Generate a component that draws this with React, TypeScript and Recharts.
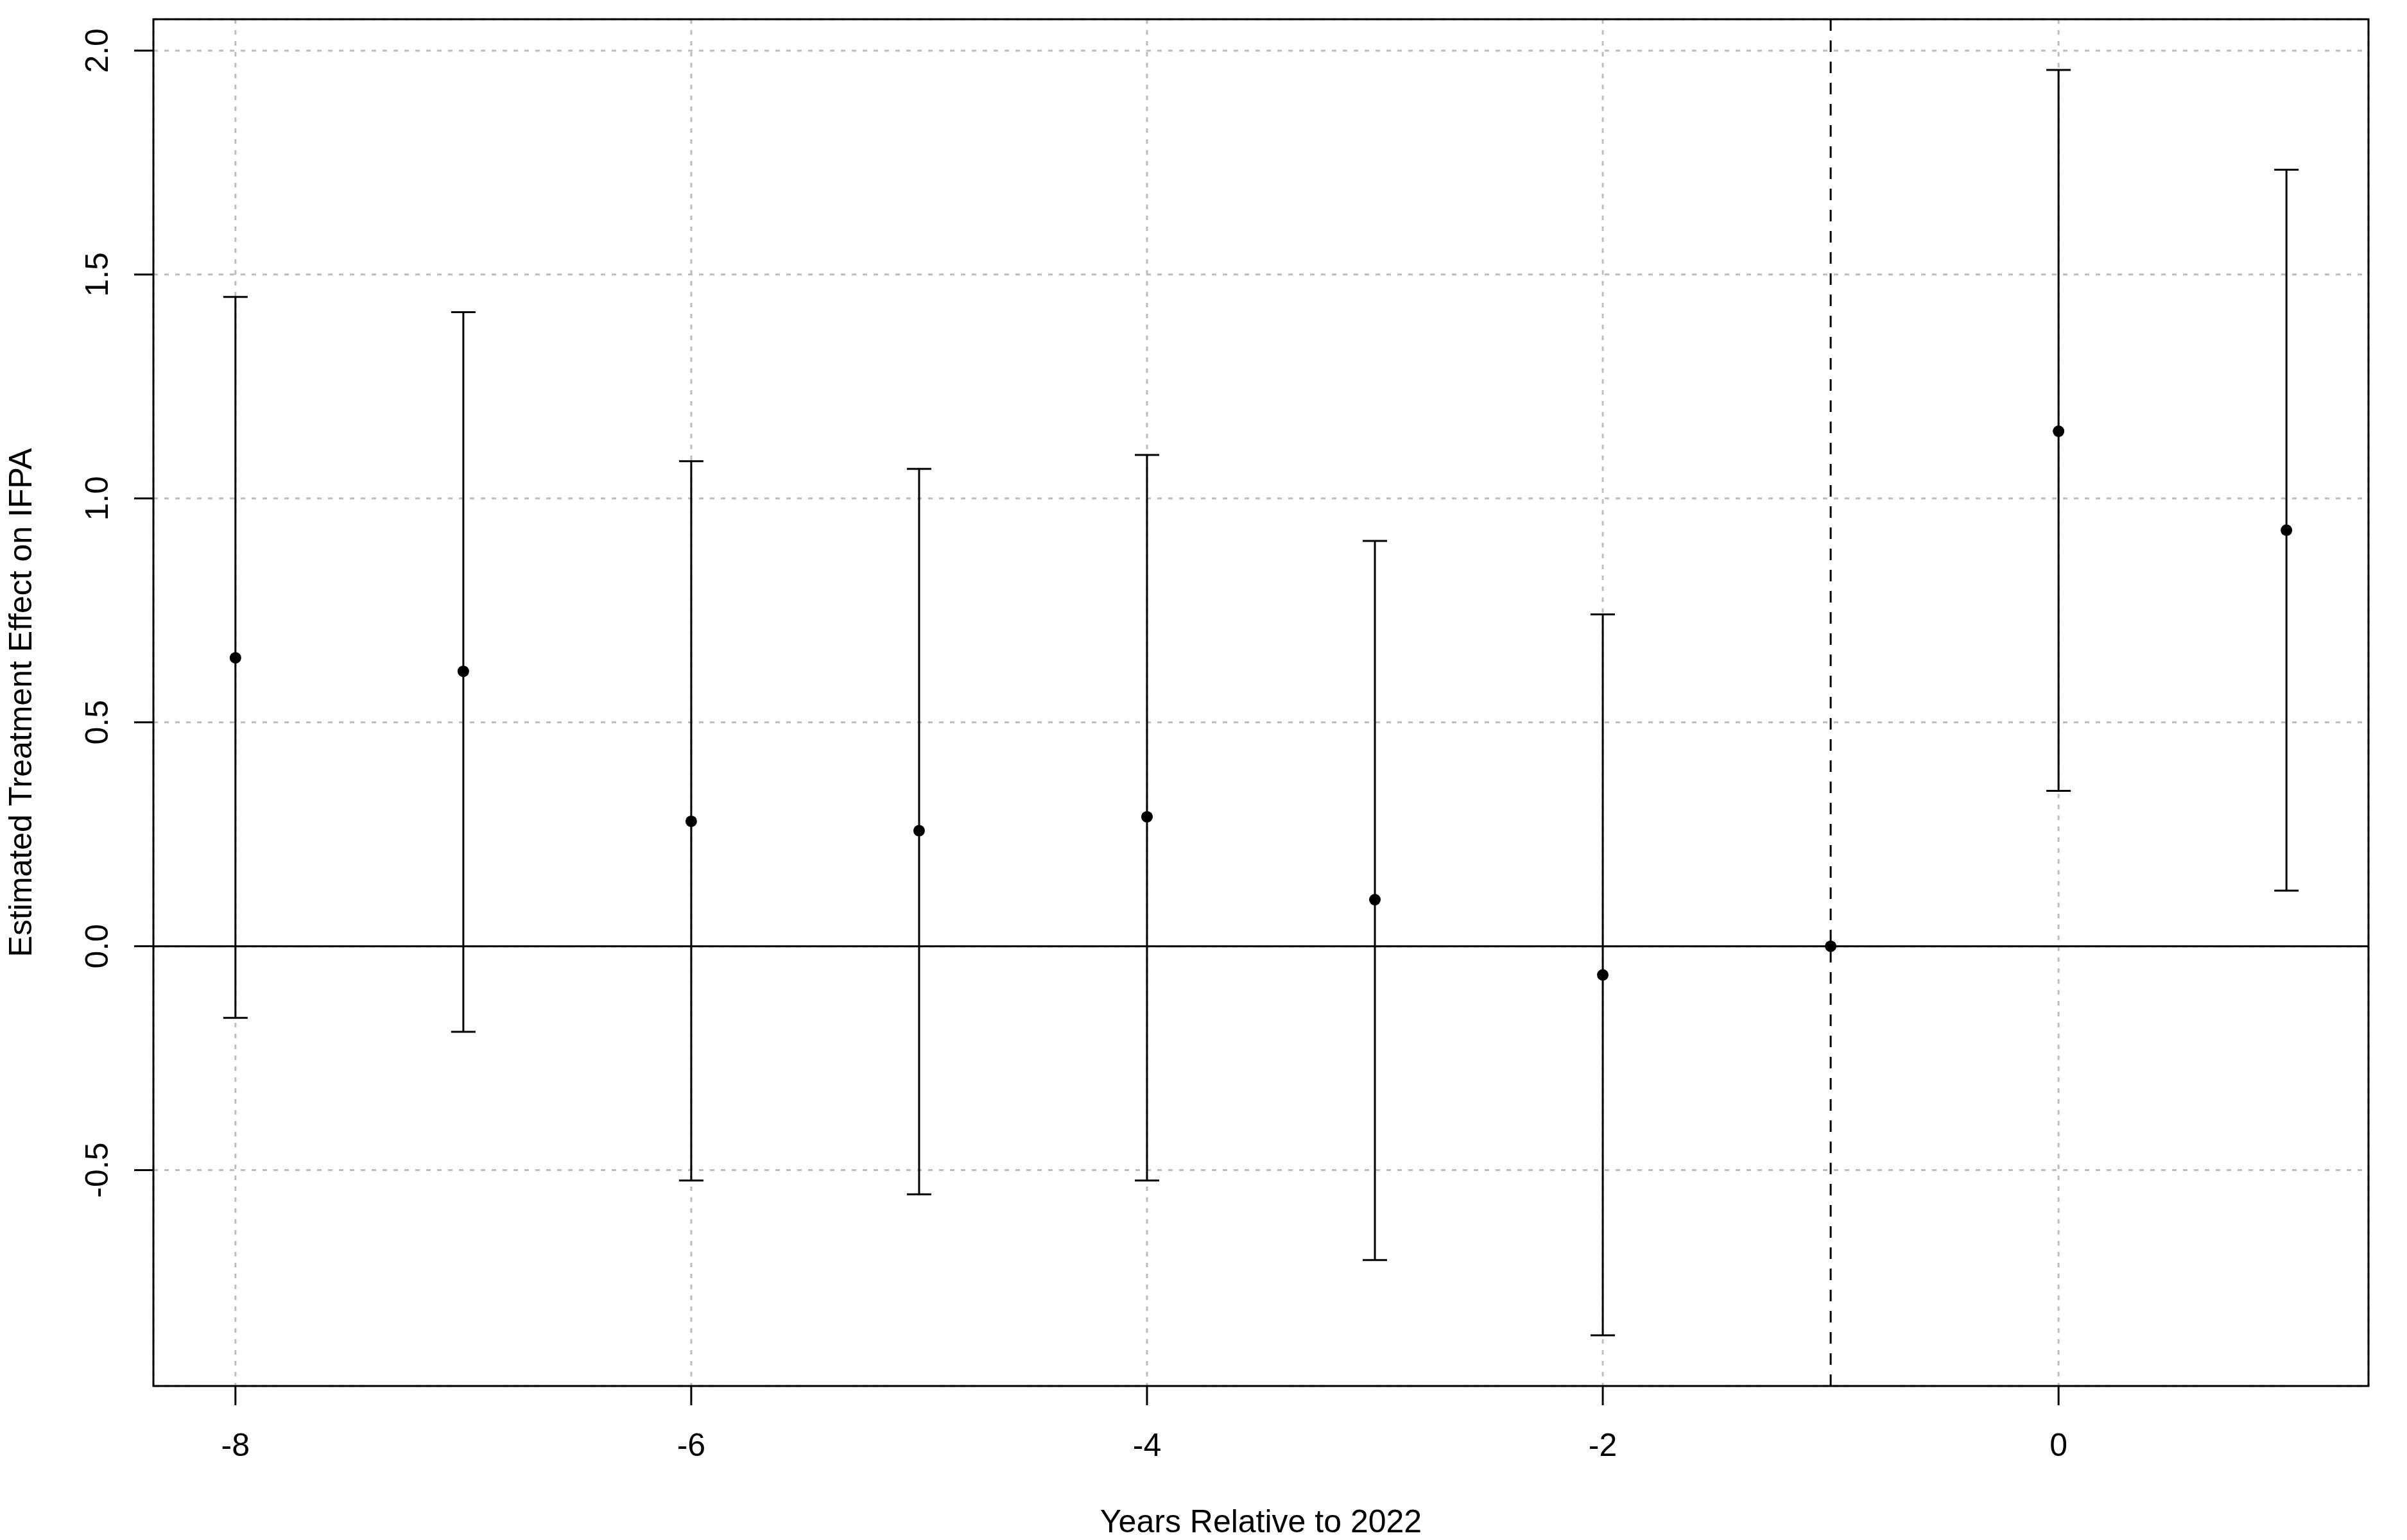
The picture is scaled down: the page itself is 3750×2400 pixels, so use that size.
import {
  ComposedChart,
  Scatter,
  ErrorBar,
  XAxis,
  YAxis,
  CartesianGrid,
  ReferenceLine,
  ReferenceArea,
} from "recharts";

// event-study estimates
const years = [-8, -7, -6, -5, -4, -3, -2, -1, 0, 1];
const estimates = [0.644, 0.614, 0.279, 0.258, 0.289, 0.104, -0.064, 0, 1.15, 0.929];
const lowerCI = [-0.16, -0.191, -0.523, -0.554, -0.523, -0.701, -0.869, 0, 0.347, 0.124];
const upperCI = [1.45, 1.416, 1.083, 1.066, 1.097, 0.905, 0.741, 0, 1.957, 1.734];

const xTicks = [-8, -6, -4, -2, 0];
const yTicks = [-0.5, 0, 0.5, 1, 1.5, 2];

const FONT = "'Liberation Sans', Arial, sans-serif";

const rows = years.map((year, i) => ({
  year,
  est: estimates[i],
  // reference year has no interval
  err: year === -1 ? undefined : [estimates[i] - lowerCI[i], upperCI[i] - estimates[i]],
}));

// R-style 4% padding on each side
const pad = (lo: number, hi: number): [number, number] => {
  const d = (hi - lo) * 0.04;
  return [lo - d, hi + d];
};
const xDomain = pad(Math.min(...years), Math.max(...years));
const yDomain = pad(Math.min(...lowerCI), Math.max(...upperCI));

const YTick = ({ x, y, payload }: any) => (
  <text
    x={x}
    y={y}
    transform={`rotate(-90, ${x}, ${y})`}
    textAnchor="middle"
    fontSize={50}
    fontFamily={FONT}
    fill="#000"
  >
    {Number(payload.value).toFixed(1)}
  </text>
);

const XTick = ({ x, y, payload }: any) => (
  <text x={x} y={y} dy="0.71em" textAnchor="middle" fontSize={50} fontFamily={FONT} fill="#000">
    {String(payload.value)}
  </text>
);

const XLabel = ({ viewBox }: any) => (
  <text
    x={viewBox.x + viewBox.width / 2}
    y={viewBox.y + 228}
    textAnchor="middle"
    fontSize={50}
    fontFamily={FONT}
    fill="#000"
  >
    Years Relative to 2022
  </text>
);

const YLabel = ({ viewBox }: any) => {
  const x = 49;
  const y = viewBox.y + viewBox.height / 2;
  return (
    <text
      x={x}
      y={y}
      transform={`rotate(-90, ${x}, ${y})`}
      textAnchor="middle"
      fontSize={50}
      fontFamily={FONT}
      fill="#000"
    >
      Estimated Treatment Effect on IFPA
    </text>
  );
};

const Dot = ({ cx, cy }: any) => <circle cx={cx} cy={cy} r={9} fill="#000" />;

export default function App() {
  return (
    <div style={{ position: "absolute", left: 0, top: 0, background: "#fff" }}>
      <ComposedChart
        width={3750}
        height={2400}
        data={rows}
        margin={{ top: 30, right: 60, bottom: 0, left: 0 }}
      >
        <CartesianGrid stroke="#bdbdbd" strokeWidth={3} strokeDasharray="7 10" />

        <XAxis
          dataKey="year"
          type="number"
          domain={xDomain}
          allowDataOverflow
          ticks={xTicks}
          height={240}
          axisLine={false}
          tickLine={{ stroke: "#000", strokeWidth: 3 }}
          tickSize={30}
          tickMargin={43}
          tick={<XTick />}
          label={<XLabel />}
        />

        <YAxis
          dataKey="est"
          type="number"
          domain={yDomain}
          allowDataOverflow
          ticks={yTicks}
          width={239}
          axisLine={false}
          tickLine={{ stroke: "#000", strokeWidth: 3 }}
          tickSize={30}
          tickMargin={41}
          tick={<YTick />}
          label={<YLabel />}
        />

        <ReferenceLine y={0} stroke="#000" strokeWidth={3} />
        <ReferenceLine x={-1} stroke="#000" strokeWidth={3} strokeDasharray="18 15" />

        <Scatter dataKey="est" fill="#000" shape={<Dot />} isAnimationActive={false}>
          <ErrorBar
            dataKey="err"
            direction="y"
            width={19}
            stroke="#000"
            strokeWidth={3}
            isAnimationActive={false}
          />
        </Scatter>

        <ReferenceArea
          x1={xDomain[0]}
          x2={xDomain[1]}
          y1={yDomain[0]}
          y2={yDomain[1]}
          fill="none"
          stroke="#000"
          strokeWidth={3}
        />
      </ComposedChart>
    </div>
  );
}
